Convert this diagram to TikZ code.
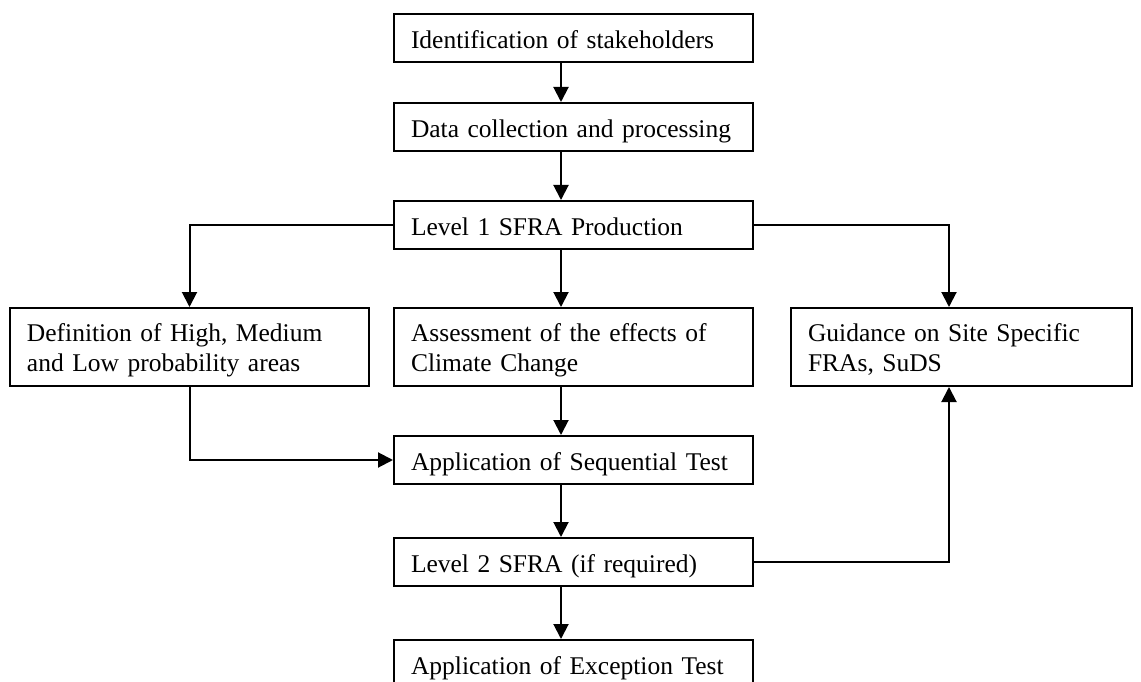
\documentclass[tikz,border=0pt]{standalone}
\usepackage{fontspec}
\setmainfont{Liberation Serif}
\usetikzlibrary{arrows.meta}

\begin{document}
\begin{tikzpicture}[x=1pt,y=-1pt,
  stage/.style={draw,line width=2pt,anchor=north west,align=left,
    inner xsep=17pt,inner ysep=2pt,text height=21pt,text depth=0pt,
    text width=325pt,minimum height=48pt,font=\fontsize{25.5}{30}\selectfont},
  stagetwo/.style={stage,text depth=33pt,minimum height=78pt},
  arr/.style={line width=2pt,-{Triangle[width=15pt,length=15pt]}}]
\useasboundingbox (0,0) rectangle (1141,682);

\node[stage] (ident) at (393,13) {Identification of stakeholders};
\node[stage] (data) at (393,102) {Data collection and processing};
\node[stage] (lvlone) at (393,200) {Level 1 SFRA Production};

\node[stagetwo] (defin) at (9,307) {Definition of High, Medium\\and Low probability areas};
\node[stagetwo] (assess) at (393,307) {Assessment of the effects of\\Climate Change};
\node[stagetwo,text width=307pt] (guide) at (790,307) {Guidance on Site Specific\\FRAs, SuDS};

\node[stage] (seq) at (393,435) {Application of Sequential Test};
\node[stage] (lvltwo) at (393,537) {Level 2 SFRA (if required)};
\node[stage] (excep) at (393,639) {Application of Exception Test};

\draw[arr] ([xshift=-12.5pt]ident.south) -- ([xshift=-12.5pt]data.north);
\draw[arr] ([xshift=-12.5pt]data.south) -- ([xshift=-12.5pt]lvlone.north);
\draw[arr] (lvlone.west) -| (defin.north);
\draw[arr] ([xshift=-12.5pt]lvlone.south) -- ([xshift=-12.5pt]assess.north);
\draw[arr] (lvlone.east) -| ([xshift=-12.5pt]guide.north);
\draw[arr] (defin.south) |- (seq.west);
\draw[arr] ([xshift=-12.5pt]assess.south) -- ([xshift=-12.5pt]seq.north);
\draw[arr] ([xshift=-12.5pt]seq.south) -- ([xshift=-12.5pt]lvltwo.north);
\draw[arr] (lvltwo.east) -| ([xshift=-12.5pt]guide.south);
\draw[arr] ([xshift=-12.5pt]lvltwo.south) -- ([xshift=-12.5pt]excep.north);

\end{tikzpicture}
\end{document}
